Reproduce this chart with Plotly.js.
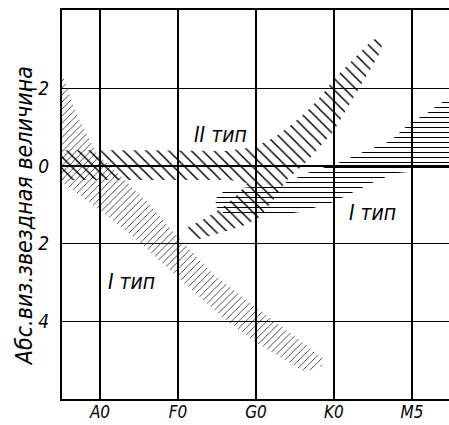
<!DOCTYPE html>
<html>
<head>
<meta charset="utf-8">
<script src="https://cdn.plot.ly/plotly-3.0.1.min.js"></script>
<style>
html,body{margin:0;padding:0;background:#fff;}
#chart{width:449px;height:425px;}
</style>
</head>
<body>
<div id="chart"></div>
<script>
// Spectral classes (x positions 0..4)
const spectralVals = [0, 1, 2, 3, 4];
const spectralLabels = ['A0', 'F0', 'G0', 'K0', 'M5'];
const magVals = [-2, 0, 2, 4];
const magLabels = ['\u22122', '0', '2', '4'];
const yTitle = 'Абс.виз.звездная величина';

// Main sequence (I тип, dwarfs): upper and lower boundaries
const msUpperX = [-0.49, -0.385, -0.28, -0.15, -0.03, 0.13, 0.32, 0.64, 1.03, 1.47, 1.96, 2.44, 2.76, 2.85];
const msUpperY = [-2.42, -1.80, -1.26, -0.75, -0.28, 0.00, 0.36, 1.00, 1.90, 2.81, 3.58, 4.30, 4.79, 4.94];
const msLowerX = [2.85, 2.63, 2.31, 2.03, 1.60, 0.99, 0.51, 0.19, 0.00, -0.26, -0.49];
const msLowerY = [5.15, 5.30, 4.92, 4.58, 3.94, 2.86, 1.96, 1.44, 1.13, 0.75, 0.41];

// II тип: horizontal band at M≈0 and ascending branch
const g2TopX = [-0.49, 0.641, 1.603, 1.987, 2.244, 2.462, 2.667, 2.846, 3.013, 3.269, 3.487, 3.564, 3.615];
const g2TopY = [-0.41, -0.41, -0.39, -0.49, -0.75, -1.08, -1.44, -1.83, -2.27, -2.78, -3.24, -3.29, -3.11];
const g2LowX = [3.590, 3.462, 3.308, 3.141, 2.987, 2.821, 2.667, 2.397, 2.218, 2.051, 1.859, 1.628, 1.410, 1.244, 1.128, 1.103];
const g2LowY = [-2.91, -2.47, -1.96, -1.39, -0.88, -0.49, -0.15, 0.36, 0.88, 1.31, 1.52, 1.67, 1.80, 1.90, 1.80, 1.60];
const g2InnerX = [1.282, 1.436, 1.615, 1.769, 1.885, 1.667, 0.641, -0.49];
const g2InnerY = [1.42, 1.24, 1.00, 0.72, 0.44, 0.36, 0.36, 0.36];

// I тип giants (horizontal hatching)
const g1UpperX = [1.474, 1.500, 1.641, 2.308, 2.692, 3.077, 3.372, 3.718, 3.974, 4.192, 4.359, 4.551];
const g1UpperY = [1.03, 0.77, 0.59, 0.49, 0.15, -0.10, -0.36, -0.64, -1.11, -1.36, -1.62, -1.78];
const g1LowerX = [4.551, 3.808, 3.564, 3.295, 2.987, 2.564, 2.179, 1.603];
const g1LowerY = [0.05, 0.18, 0.36, 0.62, 0.93, 1.18, 1.29, 1.24];

// Labels
const labelText = ['II тип', 'I тип', 'I тип'];
const labelX = [1.54, 3.50, 0.41];
const labelY = [-0.80, 1.21, 2.99];

function band(xs, ys, pat) {
  return {
    x: xs, y: ys, type: 'scatter', mode: 'lines', fill: 'toself',
    line: {width: 0, color: 'rgba(0,0,0,0)'},
    fillcolor: 'rgba(255,255,255,0)',
    fillpattern: Object.assign({fgcolor: '#000', bgcolor: 'rgba(255,255,255,0)', fillmode: 'replace'}, pat),
    hoverinfo: 'skip', showlegend: false
  };
}

const traces = [
  band(msUpperX.concat(msLowerX), msUpperY.concat(msLowerY), {shape: '/', size: 5, solidity: 0.14}),
  band(g2TopX.concat(g2LowX, g2InnerX), g2TopY.concat(g2LowY, g2InnerY), {shape: '\\', size: 8, solidity: 0.18}),
  band(g1UpperX.concat(g1LowerX), g1UpperY.concat(g1LowerY), {shape: '-', size: 5, solidity: 0.2})
];

const fontFam = 'DejaVu Sans Condensed, DejaVu Sans, sans-serif';
const annotations = labelText.map((t, i) => ({
  x: labelX[i], y: labelY[i], xref: 'x', yref: 'y', text: t, showarrow: false,
  font: {family: fontFam, size: 21, style: 'italic', color: '#000'}
}));
annotations.push({
  x: (24 - 62) / 387, xref: 'paper', xanchor: 'center', y: 0.47, yref: 'paper', yanchor: 'middle',
  text: yTitle, textangle: -90, showarrow: false,
  font: {family: fontFam, size: 23, style: 'italic', color: '#000'}
});

const layout = {
  width: 449, height: 425,
  margin: {l: 62, r: 0, t: 10, b: 26, pad: 0},
  paper_bgcolor: '#fff', plot_bgcolor: '#fff',
  showlegend: false,
  font: {family: fontFam, color: '#000'},
  xaxis: {
    range: [-0.487, 4.475], tickmode: 'array', tickvals: spectralVals, ticktext: spectralLabels,
    showgrid: true, gridcolor: '#000', gridwidth: 1.5, zeroline: false,
    showline: true, mirror: true, linecolor: '#000', linewidth: 2,
    ticks: '', ticklabelstandoff: -3,
    tickfont: {family: fontFam, size: 17, style: 'italic', color: '#000'},
    fixedrange: true
  },
  yaxis: {
    range: [6.0, -4.02], tickmode: 'array', tickvals: magVals, ticktext: magLabels,
    showgrid: true, gridcolor: '#000', gridwidth: 1.5, zeroline: false,
    showline: true, mirror: false, linecolor: '#000', linewidth: 2,
    ticks: '', ticklabelstandoff: 7,
    tickfont: {family: fontFam, size: 19, style: 'italic', color: '#000'},
    automargin: false,
    fixedrange: true
  },
  annotations: annotations
};

Plotly.newPlot('chart', traces, layout, {staticPlot: true, displayModeBar: false});
</script>
</body>
</html>
